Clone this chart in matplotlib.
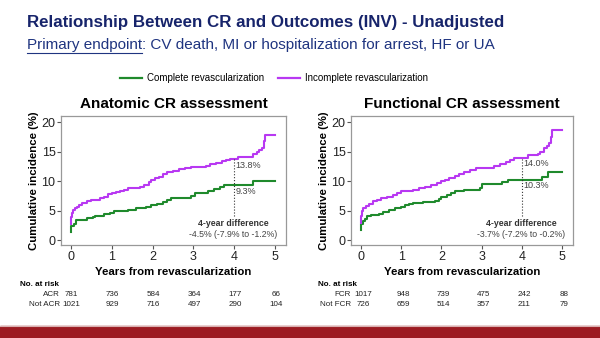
import matplotlib
matplotlib.use("Agg")
import matplotlib.pyplot as plt
from matplotlib.lines import Line2D
from matplotlib.patches import Rectangle

plt.rcParams['font.family'] = ['Liberation Sans', 'DejaVu Sans']

# --- data (step curves, years vs cumulative %) ---
acr_t = [0, 0.01, 0.08, 0.12, 0.2, 0.4, 0.55, 0.6, 0.8, 0.95, 1.05, 1.2, 1.4, 1.6, 1.85, 1.95, 2.1,
         2.25, 2.35, 2.45, 2.7, 2.95, 3.05, 3.2, 3.35, 3.5, 3.65, 3.75, 4.45, 5.0]
acr_y = [1.4, 2.5, 2.8, 3.4, 3.5, 3.7, 3.9, 4.2, 4.4, 4.7, 4.9, 5.0, 5.2, 5.4, 5.6, 5.9, 6.2,
         6.5, 6.9, 7.1, 7.2, 7.5, 8.0, 8.1, 8.4, 8.7, 9.0, 9.3, 10.1, 10.1]
nacr_t = [0, 0.01, 0.03, 0.06, 0.1, 0.15, 0.2, 0.28, 0.4, 0.5, 0.6, 0.7, 0.8, 0.9, 1.0, 1.1, 1.2,
          1.3, 1.4, 1.55, 1.7, 1.8, 1.9, 1.97, 2.05, 2.15, 2.25, 2.35, 2.5, 2.65, 2.8, 2.95, 3.1,
          3.3, 3.4, 3.55, 3.7, 3.8, 3.9, 4.1, 4.35, 4.45, 4.55, 4.62, 4.68, 4.73, 4.76, 5.0]
nacr_y = [2.8, 3.9, 4.6, 5.1, 5.4, 5.7, 6.0, 6.4, 6.6, 6.8, 6.9, 7.1, 7.4, 7.8, 8.0, 8.2, 8.4,
          8.6, 8.8, 8.9, 9.1, 9.4, 9.8, 10.3, 10.5, 10.8, 11.2, 11.6, 11.8, 12.0, 12.2, 12.4, 12.5,
          12.6, 12.9, 13.1, 13.4, 13.6, 13.8, 14.1, 14.2, 14.7, 15.0, 15.3, 15.6, 16.8, 17.8, 17.8]

fcr_t = [0, 0.01, 0.05, 0.1, 0.15, 0.25, 0.45, 0.55, 0.7, 0.85, 1.0, 1.1, 1.2, 1.3, 1.55, 1.85,
         1.95, 2.0, 2.15, 2.25, 2.35, 2.55, 2.7, 2.95, 3.0, 3.3, 3.5, 3.65, 3.85, 4.5, 4.65, 5.0]
fcr_y = [1.8, 2.8, 3.2, 3.6, 4.1, 4.3, 4.5, 4.8, 5.1, 5.4, 5.7, 6.0, 6.2, 6.4, 6.5, 6.6,
         7.0, 7.4, 7.6, 8.0, 8.3, 8.5, 8.6, 8.8, 9.5, 9.6, 9.9, 10.2, 10.3, 10.8, 11.5, 11.5]
nfcr_t = [0, 0.01, 0.03, 0.06, 0.12, 0.2, 0.3, 0.4, 0.5, 0.65, 0.8, 0.9, 1.0, 1.2, 1.3, 1.45, 1.6,
          1.75, 1.9, 2.0, 2.1, 2.2, 2.35, 2.45, 2.55, 2.7, 2.85, 3.2, 3.3, 3.45, 3.6, 3.7, 3.8,
          4.15, 4.4, 4.45, 4.55, 4.62, 4.68, 4.73, 4.76, 5.0]
nfcr_y = [3.0, 4.2, 5.0, 5.4, 5.8, 6.2, 6.6, 6.9, 7.2, 7.4, 7.6, 8.0, 8.3, 8.4, 8.6, 8.9, 9.1,
          9.3, 9.7, 10.0, 10.2, 10.5, 10.9, 11.3, 11.6, 11.9, 12.2, 12.3, 12.6, 12.9, 13.3, 13.6, 14.0,
          14.5, 14.6, 15.0, 15.6, 16.0, 16.5, 17.5, 18.7, 18.7]

risk_years = [0, 1, 2, 3, 4, 5]
risk_acr = [781, 736, 584, 364, 177, 66]
risk_nacr = [1021, 929, 716, 497, 290, 104]
risk_fcr = [1017, 948, 739, 475, 242, 88]
risk_nfcr = [726, 659, 514, 357, 211, 79]

GREEN = '#1f8a2c'
PURPLE = '#b838f2'
NAVY = '#17246b'
BLUE = '#1f3480'
W, H = 600, 338

fig = plt.figure(figsize=(6, 3.38), dpi=100)


def ax_at(x0, x1, y0, y1):
    return fig.add_axes([x0 / W, 1 - y1 / H, (x1 - x0) / W, (y1 - y0) / H])


def panel(ax, t1, y1, t2, y2, title, v_in, v_comp, diff):
    ax.plot(t1, y1, drawstyle='steps-post', color=GREEN, lw=1.5)
    ax.plot(t2, y2, drawstyle='steps-post', color=PURPLE, lw=1.5)
    ax.set_xlim(-0.245, 5.27)
    ax.set_ylim(-0.8, 21.07)
    ax.set_xticks(range(6))
    ax.set_yticks([0, 5, 10, 15, 20])
    ax.tick_params(labelsize=9, length=3, color='#555555', labelcolor='#222222', pad=1)
    for s in ax.spines.values():
        s.set_color('#999999')
        s.set_linewidth(0.9)
    ax.set_title(title, fontsize=11, fontweight='bold', pad=6)
    ax.set_xlabel('Years from revascularization', fontsize=8.2, fontweight='bold', labelpad=3)
    ax.set_ylabel('Cumulative incidence (%)', fontsize=8.2, fontweight='bold', labelpad=1.5)
    ax.plot([4, 4], [4.2, v_in], ls=':', color='#333333', lw=0.8)
    ax.text(4.04, v_in - 0.3, f'{v_in:.1f}%', fontsize=6.5, color='#444444', va='top')
    ax.text(4.04, v_comp - 0.3, f'{v_comp:.1f}%', fontsize=6.5, color='#444444', va='top')
    ax.text(3.98, 2.8, '4-year difference', fontsize=6.3, fontweight='bold', color='#333333',
            ha='center', va='center')
    ax.text(3.98, 0.9, diff, fontsize=6.3, color='#444444', ha='center', va='center')


axL = ax_at(61, 286, 116, 245)
panel(axL, acr_t, acr_y, nacr_t, nacr_y, 'Anatomic CR assessment', 13.8, 9.3,
      '-4.5% (-7.9% to -1.2%)')
axR = ax_at(351, 573, 116, 245)
panel(axR, fcr_t, fcr_y, nfcr_t, nfcr_y, 'Functional CR assessment', 14.0, 10.3,
      '-3.7% (-7.2% to -0.2%)')


# number at risk table, columns follow the axis x scale
def risk_table(ax, lab_x, labels, rows, head_x, shift):
    tr = matplotlib.transforms.blended_transform_factory(ax.transData, fig.transFigure)
    fig.text(head_x / W, 1 - 285 / H, 'No. at risk', fontsize=5.8, fontweight='bold', va='center')
    for lab, vals, yy in zip(labels, rows, [295, 304]):
        fig.text(lab_x / W, 1 - yy / H, lab, fontsize=5.8, ha='right', va='center', color='#222222')
        for xv, v in zip(risk_years, vals):
            ax.text(xv + shift, 1 - yy / H, str(v), transform=tr, fontsize=5.8, ha='center',
                    va='center', color='#222222')


risk_table(axL, 60, ['ACR', 'Not ACR'], [risk_acr, risk_nacr], 20, 0.02)
risk_table(axR, 351, ['FCR', 'Not FCR'], [risk_fcr, risk_nfcr], 318, 0.05)

# titles
fig.text(266 / W, 1 - 22 / H, 'Relationship Between CR and Outcomes (INV) - Unadjusted',
         fontsize=12.15, fontweight='bold', color=NAVY, ha='center', va='center')
t1 = fig.text(27 / W, 1 - 45 / H, 'Primary endpoint', fontsize=11, color=BLUE, va='center')
fig.canvas.draw()
bb = t1.get_window_extent()
fig.text(bb.x1 / W, 1 - 45 / H, ': CV death, MI or hospitalization for arrest, HF or UA',
         fontsize=11, color=BLUE, va='center')
fig.add_artist(Line2D([bb.x0 / W, bb.x1 / W], [(bb.y0 - 0.5) / H, (bb.y0 - 0.5) / H],
                      color=BLUE, lw=0.8))

# legend
fig.legend(handles=[Line2D([], [], color=GREEN, lw=1.6), Line2D([], [], color=PURPLE, lw=1.6)],
           labels=['Complete revascularization', 'Incomplete revascularization'],
           loc='center', bbox_to_anchor=(274 / W, 1 - 78 / H), ncol=2, frameon=False,
           fontsize=7, handlelength=2.2, columnspacing=1.5, handletextpad=0.5)

# bottom bar
fig.add_artist(Rectangle((0, 0), 1, 12 / H, transform=fig.transFigure, color='#9c1b22'))
fig.add_artist(Line2D([0, 1], [12 / H, 12 / H], color='#d9b0b0', lw=0.8))

fig.savefig('out.png', dpi=100)
